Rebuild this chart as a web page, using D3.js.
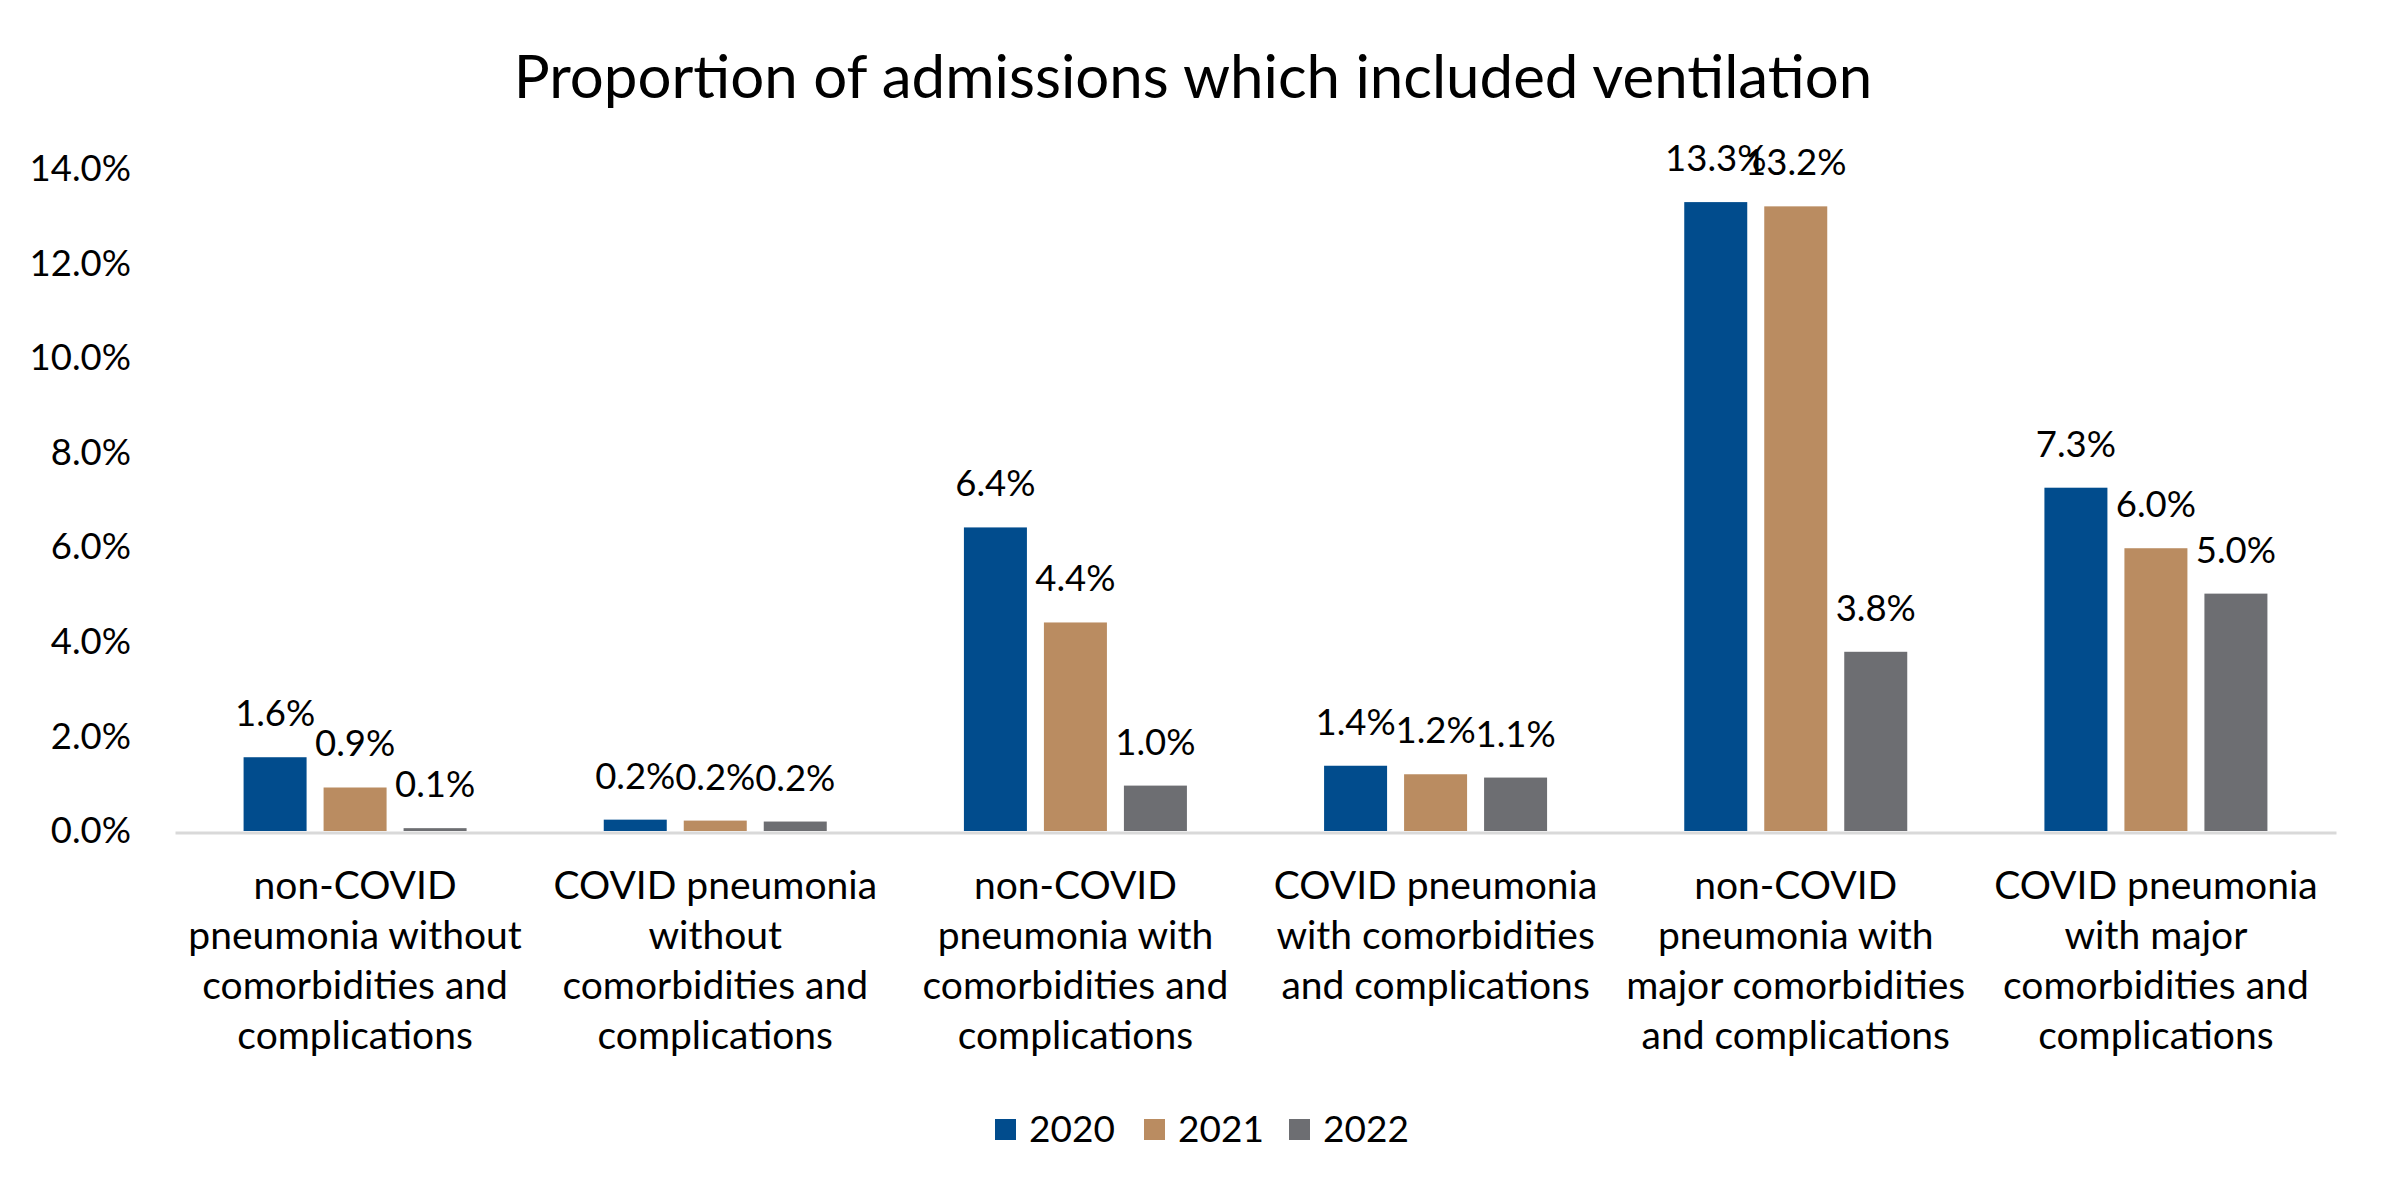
<!DOCTYPE html>
<html>
<head>
<meta charset="utf-8">
<script src="https://cdn.jsdelivr.net/npm/d3@7"></script>
<style>
  html, body { margin: 0; padding: 0; background: #fff; }
  svg { display: block; font-family: Lato, "Open Sans", sans-serif; }
</style>
</head>
<body>
<svg id="chart" width="2386" height="1195"></svg>
<script>
const title = "Proportion of admissions which included ventilation";
const categories = [
  "non-COVID pneumonia without comorbidities and complications",
  "COVID pneumonia without comorbidities and complications",
  "non-COVID pneumonia with comorbidities and complications",
  "COVID pneumonia with comorbidities and complications",
  "non-COVID pneumonia with major comorbidities and complications",
  "COVID pneumonia with major comorbidities and complications"
];
const categoryLines = [
  ["non-COVID", "pneumonia without", "comorbidities and", "complications"],
  ["COVID pneumonia", "without", "comorbidities and", "complications"],
  ["non-COVID", "pneumonia with", "comorbidities and", "complications"],
  ["COVID pneumonia", "with comorbidities", "and complications"],
  ["non-COVID", "pneumonia with", "major comorbidities", "and complications"],
  ["COVID pneumonia", "with major", "comorbidities and", "complications"]
];
const years = ["2020", "2021", "2022"];
const values2020 = [1.56, 0.24, 6.42, 1.38, 13.3, 7.26];
const values2021 = [0.92, 0.22, 4.41, 1.20, 13.21, 5.98];
const values2022 = [0.06, 0.20, 0.96, 1.13, 3.79, 5.02];
const yTicks = [0, 2, 4, 6, 8, 10, 12, 14];
const colors = ["#014C8D", "#BA8C61", "#6D6E72"];

const series = [values2020, values2021, values2022];
const svg = d3.select("#chart");

const plot = { left: 175, right: 2336, top: 169, bottom: 831 };

const x0 = d3.scaleBand().domain(categories).range([plot.left, plot.right]).paddingInner(0).paddingOuter(0);
const groupW = 223;
const x1 = d3.scaleBand().domain(years).range([0, groupW]).paddingInner(0.2125).paddingOuter(0);
const y = d3.scaleLinear().domain([0, 14]).range([plot.bottom, plot.top]);

// Title
svg.append("text")
  .attr("x", 1193).attr("y", 98)
  .attr("text-anchor", "middle")
  .attr("font-size", 60)
  .attr("fill", "#000")
  .text(title);

// Y axis labels (no line)
const yAxis = d3.axisLeft(y).tickValues(yTicks).tickSize(0).tickPadding(0)
  .tickFormat(d => d.toFixed(1) + "%");
const yG = svg.append("g").attr("transform", `translate(131,0)`).call(yAxis);
yG.select(".domain").remove();
yG.selectAll("text").attr("font-size", 36.5).attr("font-family", "Lato, 'Open Sans', sans-serif").attr("fill", "#000");

// Bars
const groupOffset = (x0.bandwidth() - groupW) / 2;
series.forEach((vals, si) => {
  const g = svg.append("g");
  g.selectAll("rect").data(vals).join("rect")
    .attr("x", (d, i) => x0(categories[i]) + groupOffset + x1(years[si]))
    .attr("y", d => y(d))
    .attr("width", x1.bandwidth())
    .attr("height", d => y(0) - y(d))
    .attr("fill", colors[si]);
  g.selectAll("text").data(vals).join("text")
    .attr("x", (d, i) => x0(categories[i]) + groupOffset + x1(years[si]) + x1.bandwidth() / 2)
    .attr("y", d => y(d) - 31)
    .attr("text-anchor", "middle")
    .attr("font-size", 36.5)
    .attr("fill", "#000")
    .text(d => d.toFixed(1) + "%");
});

// X axis line
const xAxis = d3.axisBottom(x0).tickSize(0).tickFormat("");
const xG = svg.append("g").attr("transform", `translate(0,${plot.bottom + 1.5})`).call(xAxis);
xG.select(".domain").attr("stroke", "#D9D9D9").attr("stroke-width", 3);

// Category labels
categories.forEach((c, i) => {
  const cx = x0(c) + x0.bandwidth() / 2;
  const t = svg.append("text").attr("text-anchor", "middle").attr("font-size", 39).attr("fill", "#000");
  categoryLines[i].forEach((line, li) => {
    t.append("tspan").attr("x", cx).attr("y", 899 + li * 50).text(line);
  });
});

// Legend
const legendX = [995, 1144, 1289];
const legend = svg.append("g");
years.forEach((yr, i) => {
  legend.append("rect").attr("x", legendX[i]).attr("y", 1119).attr("width", 21).attr("height", 21).attr("fill", colors[i]);
  legend.append("text").attr("x", legendX[i] + 34).attr("y", 1142).attr("font-size", 37).attr("fill", "#000").text(yr);
});
</script>
</body>
</html>
